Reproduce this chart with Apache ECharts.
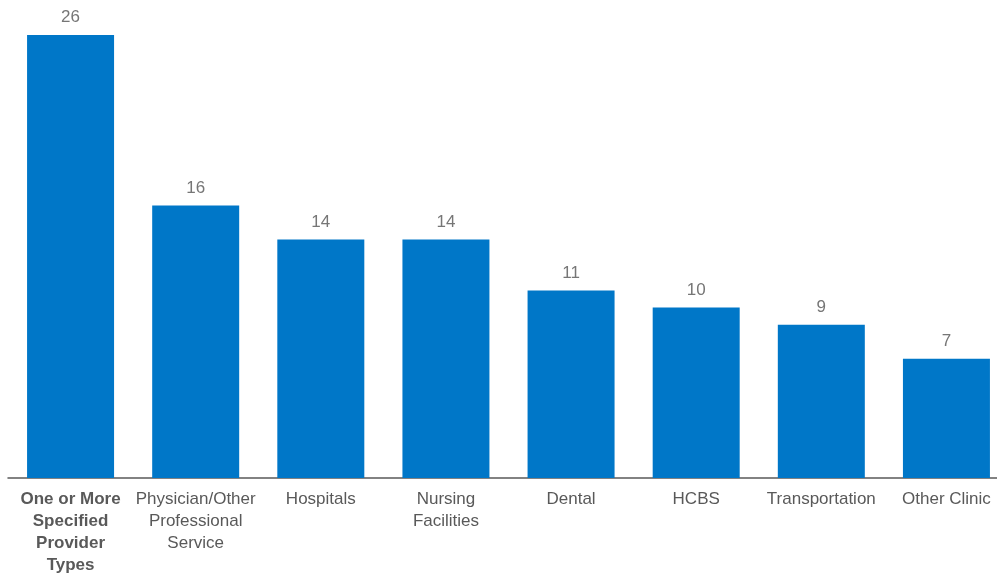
<!DOCTYPE html>
<html>
<head>
<meta charset="utf-8">
<script src="https://cdn.jsdelivr.net/npm/echarts@6/dist/echarts.min.js"></script>
<style>
  html, body { margin: 0; padding: 0; background: #fff; }
  #chart { width: 997px; height: 576px; }
</style>
</head>
<body>
<div id="chart"></div>
<script>
// Provider types and counts
const categories = [
  'One or More\nSpecified\nProvider\nTypes',
  'Physician/Other\nProfessional\nService',
  'Hospitals',
  'Nursing\nFacilities',
  'Dental',
  'HCBS',
  'Transportation',
  'Other Clinic'
];
const counts = [26, 16, 14, 14, 11, 10, 9, 7];

const FONT = 'Arial, "Liberation Sans", sans-serif';

const chart = echarts.init(document.getElementById('chart'));
chart.setOption({
  animation: false,
  grid: { left: 8, top: 35, right: -12, bottom: 98, containLabel: false, outerBoundsMode: 'none' },
  xAxis: {
    type: 'category',
    data: categories,
    axisLine: { lineStyle: { color: '#595959', width: 1.5 } },
    axisTick: { show: false },
    axisLabel: {
      interval: 0,
      margin: 10,
      color: '#595959',
      fontFamily: FONT,
      fontSize: 17,
      lineHeight: 22,
      formatter: function (v, i) {
        return i === 0 ? '{b|' + v.split('\n').join('}\n{b|') + '}' : v;
      },
      rich: {
        b: { fontWeight: 'bold', fontSize: 17, lineHeight: 22, color: '#595959', fontFamily: FONT }
      }
    }
  },
  yAxis: {
    type: 'value',
    min: 0,
    max: 26,
    show: false,
    splitLine: { show: false }
  },
  series: [{
    type: 'bar',
    data: counts,
    barWidth: 87,
    itemStyle: { color: '#0077C8' },
    label: {
      show: true,
      position: 'top',
      distance: 9,
      color: '#767676',
      fontFamily: FONT,
      fontSize: 17
    }
  }]
});
</script>
</body>
</html>
